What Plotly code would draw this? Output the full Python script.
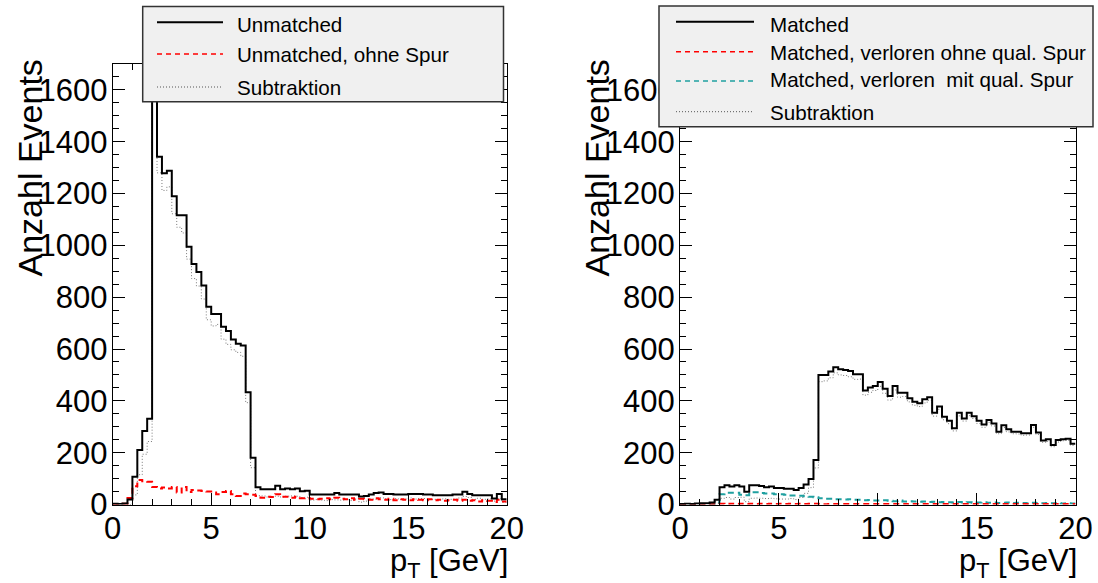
import numpy as np
import plotly.graph_objects as go

# ---------------- data (bin contents, 80 bins of 0.25 GeV from 0 to 20 GeV) ----------------
pt_min, pt_max, pt_bin_width = 0.0, 20.0, 0.25
bin_edges = np.arange(pt_min, pt_max + pt_bin_width / 2, pt_bin_width)

unmatched = [3, 2, 4, 19, 107, 210, 284, 331, 2400, 1342,
             1278, 1288, 1190, 1116, 1116, 995, 928, 897, 845, 763,
             735, 735, 686, 670, 637, 620, 614, 433, 180, 67,
             59, 59, 59, 72, 59, 62, 59, 62, 51, 53,
             39, 39, 39, 39, 39, 44, 39, 39, 39, 39,
             31, 33, 39, 44, 46, 41, 41, 39, 39, 39,
             41, 41, 41, 39, 39, 36, 36, 36, 36, 39,
             39, 49, 41, 36, 36, 36, 36, 23, 41, 20]

unmatched_ohne_spur = [2, 2, 3, 25, 70, 95, 90, 88, 68, 62,
                       66, 62, 68, 46, 68, 48, 56, 54, 52, 50,
                       46, 40, 48, 52, 40, 33, 42, 40, 38, 33,
                       26, 30, 29, 40, 30, 30, 26, 30, 24, 25,
                       22, 20, 22, 24, 20, 26, 22, 20, 24, 18,
                       22, 20, 18, 24, 20, 18, 22, 16, 20, 18,
                       16, 20, 18, 16, 20, 16, 18, 14, 16, 18,
                       14, 18, 14, 16, 12, 16, 14, 10, 18, 12]

unmatched_subtraktion = [1, 0, 1, 0, 37, 115, 194, 243, 2330, 1280,
                         1212, 1226, 1122, 1070, 1048, 947, 872, 843, 793, 713,
                         689, 695, 638, 618, 597, 587, 572, 393, 142, 34,
                         33, 29, 30, 32, 29, 32, 33, 32, 27, 28,
                         17, 19, 17, 15, 19, 18, 17, 19, 15, 21,
                         9, 13, 21, 20, 26, 23, 19, 23, 19, 21,
                         25, 21, 23, 23, 19, 20, 18, 22, 20, 21,
                         25, 31, 27, 20, 24, 20, 22, 13, 23, 8]

matched = [2, 3, 2, 4, 5, 5, 8, 18, 67, 74,
           69, 74, 69, 49, 74, 74, 71, 67, 69, 64,
           64, 61, 61, 56, 64, 77, 98, 172, 500, 500,
           513, 530, 522, 519, 515, 503, 503, 440, 452, 457,
           473, 447, 419, 457, 431, 431, 410, 397, 391, 406,
           414, 354, 378, 339, 323, 294, 354, 332, 354, 341,
           323, 309, 326, 313, 281, 306, 290, 281, 281, 275,
           275, 307, 278, 247, 252, 230, 249, 252, 254, 234]

matched_ohne_qual_spur = [0, 0, 0, 0, 1, 0, 1, 1, 3, 2,
                          3, 2, 3, 2, 3, 2, 3, 2, 3, 2,
                          3, 2, 3, 2, 3, 2, 3, 3, 2, 1,
                          2, 2, 2, 2, 2, 2, 2, 2, 2, 2,
                          2, 2, 2, 2, 2, 2, 1, 2, 2, 2,
                          2, 2, 2, 2, 2, 2, 2, 2, 2, 2,
                          2, 2, 2, 2, 2, 2, 2, 2, 2, 2,
                          2, 2, 2, 2, 2, 2, 2, 2, 2, 2]

matched_mit_qual_spur = [0, 0, 1, 0, 1, 1, 2, 6, 40, 45,
                         45, 45, 38, 36, 47, 47, 44, 42, 42, 40,
                         40, 38, 35, 35, 34, 32, 30, 28, 24, 22,
                         22, 20, 20, 19, 20, 18, 18, 16, 17, 15,
                         15, 16, 14, 13, 15, 12, 13, 12, 11, 12,
                         10, 11, 9, 10, 9, 8, 10, 8, 9, 7,
                         8, 9, 7, 8, 6, 7, 8, 6, 7, 6,
                         5, 7, 6, 5, 6, 5, 6, 4, 5, 4]

matched_subtraktion = [2, 3, 1, 4, 3, 4, 5, 11, 24, 27,
                       21, 27, 28, 11, 24, 25, 24, 23, 24, 22,
                       21, 21, 23, 19, 27, 43, 65, 141, 474, 477,
                       489, 508, 500, 498, 493, 483, 484, 422, 433, 440,
                       456, 429, 403, 442, 414, 417, 396, 383, 378, 392,
                       402, 341, 367, 327, 312, 284, 342, 322, 343, 332,
                       313, 298, 317, 303, 273, 297, 280, 273, 272, 267,
                       268, 298, 270, 240, 244, 223, 241, 246, 247, 228]

y_ticks = [0, 200, 400, 600, 800, 1000, 1200, 1400, 1600]
x_ticks = [0, 5, 10, 15, 20]
legend_left = ["Unmatched", "Unmatched, ohne Spur", "Subtraktion"]
legend_right = ["Matched", "Matched, verloren ohne qual. Spur",
                "Matched, verloren\u00a0 mit qual. Spur", "Subtraktion"]

# ---------------- styling ----------------
W, H = 1098, 583
FONT = "Liberation Sans, Arial, Helvetica, sans-serif"
BLACK = "#000000"
RED = "#ff0000"
TEAL = "#1fa0a0"
GRAY = "#7a7a7a"


def px_x(p):
    return p / W


def px_y(p):
    return 1 - p / H


def step(values):
    xs = list(bin_edges)
    ys = list(values) + [values[-1]]
    return xs, ys


fig = go.Figure()

series_left = [
    (unmatched, dict(color=BLACK, width=2)),
    (unmatched_ohne_spur, dict(color=RED, width=2, dash="6px,4px")),
    (unmatched_subtraktion, dict(color=GRAY, width=1, dash="1px,2px")),
]
series_right = [
    (matched, dict(color=BLACK, width=2)),
    (matched_ohne_qual_spur, dict(color=RED, width=2, dash="6px,4px")),
    (matched_mit_qual_spur, dict(color=TEAL, width=2, dash="6px,4px")),
    (matched_subtraktion, dict(color=GRAY, width=1, dash="1px,2px")),
]

for (vals, ln), name in reversed(list(zip(series_left, legend_left))):
    xs, ys = step(vals)
    fig.add_trace(go.Scatter(x=xs, y=ys, mode="lines", line=dict(shape="hv", **ln),
                             name=name, showlegend=False, xaxis="x", yaxis="y"))
for (vals, ln), name in reversed(list(zip(series_right, legend_right))):
    xs, ys = step(vals)
    fig.add_trace(go.Scatter(x=xs, y=ys, mode="lines", line=dict(shape="hv", **ln),
                             name=name, showlegend=False, xaxis="x2", yaxis="y2"))

y_dom = [px_y(504.5), px_y(64)]


def xaxis_cfg(x0, x1, anchor):
    return dict(domain=[px_x(x0), px_x(x1)], anchor=anchor, range=[pt_min, pt_max],
                automargin=False,
                tickvals=x_ticks, ticks="inside", ticklen=12, tickwidth=1, tickcolor=BLACK,
                minor=dict(ticks="inside", ticklen=6, dtick=1, tickcolor=BLACK, tickwidth=1),
                showline=True, linecolor=BLACK, linewidth=1, mirror="allticks",
                showgrid=False, zeroline=False, ticklabelstandoff=-4,
                tickfont=dict(family=FONT, size=31, color=BLACK))


def yaxis_cfg(anchor):
    return dict(domain=y_dom, anchor=anchor, range=[0, 1700],
                automargin=False,
                tickvals=y_ticks, ticks="inside", ticklen=12, tickwidth=1, tickcolor=BLACK,
                minor=dict(ticks="inside", ticklen=6, dtick=50, tickcolor=BLACK, tickwidth=1),
                showline=True, linecolor=BLACK, linewidth=1, mirror="allticks",
                showgrid=False, zeroline=False, ticklabelstandoff=-2,
                tickfont=dict(family=FONT, size=31, color=BLACK))


fig.update_layout(
    width=W, height=H,
    margin=dict(l=0, r=0, t=0, b=0),
    paper_bgcolor="white", plot_bgcolor="white",
    showlegend=False,
    xaxis=xaxis_cfg(112.7, 506.7, "y"),
    yaxis=yaxis_cfg("x"),
    xaxis2=xaxis_cfg(680, 1075.5, "y2"),
    yaxis2=yaxis_cfg("x2"),
)

shapes = []
annotations = []

# axis titles (ROOT style: right/top aligned)
for xc in (30, 597):
    annotations.append(dict(x=px_x(xc), y=px_y(58), xref="paper", yref="paper",
                            text="Anzahl Events", textangle=-90, showarrow=False,
                            xanchor="center", yanchor="top",
                            font=dict(family=FONT, size=34, color=BLACK)))
for xr in (510, 1079):
    annotations.append(dict(x=px_x(xr), y=px_y(585), xref="paper", yref="paper",
                            text="p<sub>T</sub> [GeV]", showarrow=False,
                            xanchor="right", yanchor="bottom",
                            font=dict(family=FONT, size=31, color=BLACK)))


def legend_box(x0, x1, y0, y1, entries, sx0, sx1, tx, rows):
    shapes.append(dict(type="rect", xref="paper", yref="paper",
                       x0=px_x(x0), x1=px_x(x1), y0=px_y(y1), y1=px_y(y0),
                       fillcolor="#f0f0f0", line=dict(color="#333333", width=1.5),
                       layer="above"))
    for (ln, label), (ys, yt) in zip(entries, rows):
        shapes.append(dict(type="line", xref="paper", yref="paper",
                           x0=px_x(sx0), x1=px_x(sx1), y0=px_y(ys), y1=px_y(ys),
                           line=ln, layer="above"))
        annotations.append(dict(x=px_x(tx), y=px_y(yt), xref="paper", yref="paper",
                                text=label, showarrow=False, xanchor="left", yanchor="middle",
                                font=dict(family=FONT, size=20.6, color=BLACK)))


legend_box(142.7, 503.5, 6.5, 101.7,
           [(dict(color=BLACK, width=2), legend_left[0]),
            (dict(color=RED, width=1.5, dash="5px,4px"), legend_left[1]),
            (dict(color="#555555", width=1, dash="1px,2px"), legend_left[2])],
           157, 223, 235, [(22.3, 24), (54, 54), (87, 88)])

legend_box(659, 1093, 6, 126.7,
           [(dict(color=BLACK, width=2), legend_right[0]),
            (dict(color=RED, width=1.5, dash="5px,4px"), legend_right[1]),
            (dict(color=TEAL, width=1.5, dash="5px,4px"), legend_right[2]),
            (dict(color="#555555", width=1, dash="1px,2px"), legend_right[3])],
           676, 754, 768, [(21.7, 24), (51.7, 52), (81, 80), (111.7, 113)])

fig.update_layout(shapes=shapes, annotations=annotations)

fig.write_html("out.html",
               post_script="document.body.style.margin='0';document.body.style.overflow='hidden';")
